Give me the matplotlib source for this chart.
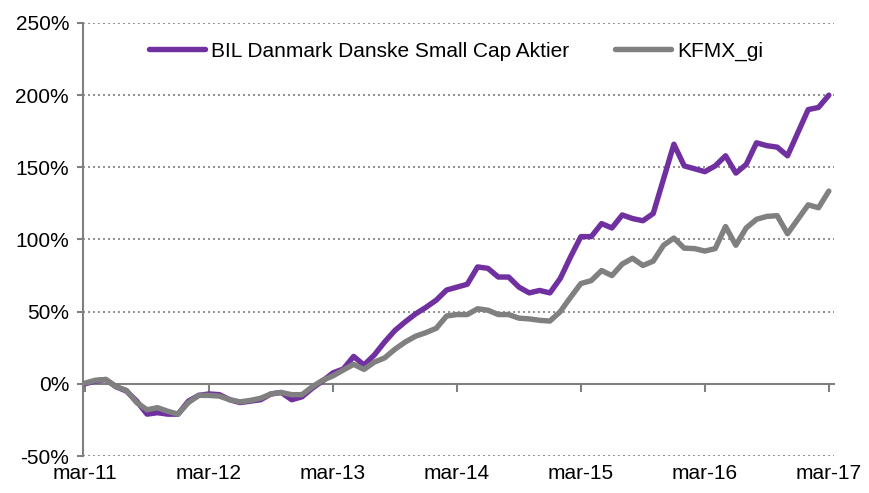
import numpy as np
import matplotlib
matplotlib.use("Agg")
import matplotlib.pyplot as plt
from matplotlib.ticker import FuncFormatter

plt.rcParams['font.family'] = ['Liberation Sans', 'DejaVu Sans']

# monthly returns in %, mar-11 .. mar-17
bil = [0, 2, 3, -2, -5, -12, -21, -20, -21, -21,
       -12, -8, -7, -7.5, -11, -13, -12, -11, -7, -6,
       -11, -9, -3, 2, 7.6, 10.3, 19, 13, 20, 29,
       37, 43, 48.5, 53, 58, 65, 67, 69, 81, 80,
       74, 74, 67, 63, 64.7, 63, 73, 88, 102, 102,
       111, 108, 117, 114.5, 113, 118, 142, 166, 151, 149,
       147, 151, 158, 146, 152, 167, 165, 164, 158, 174,
       190, 191.5, 200]
kfmx = [0.5, 2.5, 3, -2, -4.5, -13, -18, -16.5, -19, -21,
        -13, -8, -8, -8.5, -11, -12.5, -11.5, -10, -7, -6,
        -7.5, -7.5, -2, 2.5, 5.5, 9.6, 13.5, 10, 15, 18,
        24, 29, 33, 35.5, 38.5, 47, 48, 48, 52, 51,
        48, 48, 45.5, 45, 44, 43.5, 50, 60, 69.5, 71.5,
        78.5, 75, 83, 87, 82, 85, 96, 101, 94, 93.7,
        92, 93.7, 109, 96, 108, 114, 116, 116.5, 104, 114,
        124, 122, 133.5]
years = ["mar-11", "mar-12", "mar-13", "mar-14", "mar-15", "mar-16", "mar-17"]
labels = ["BIL Danmark Danske Small Cap Aktier", "KFMX_gi"]

months = np.arange(len(bil))
grey = "#808080"

fig = plt.figure(figsize=(8.69, 4.93), dpi=100)
ax = fig.add_axes([83/869, 1-456/493, (834-83)/869, (456-23)/493])

ax.plot(months, bil, color="#7030A0", lw=3.9, label=labels[0], solid_capstyle="round")
ax.plot(months, kfmx, color=grey, lw=3.9, label=labels[1], solid_capstyle="round")

ax.set_xlim(-0.2, 72.5)
ax.set_ylim(-50, 250)
ax.set_yticks(np.arange(-50, 251, 50))
ax.yaxis.set_major_formatter(FuncFormatter(lambda v, p: "%d%%" % v))
for v in [-50, 50, 100, 150, 200, 250]:
    ax.axhline(v, color=grey, lw=1.2, ls=(0, (1.2, 1.8)), zorder=0)

ax.set_xticks(np.arange(0, 73, 12))
ax.set_xticklabels(years)

for s in ["top", "right"]:
    ax.spines[s].set_visible(False)
ax.spines["left"].set_color(grey)
ax.spines["left"].set_linewidth(1.5)
ax.spines["bottom"].set_position(("data", 0))
ax.spines["bottom"].set_color(grey)
ax.spines["bottom"].set_linewidth(1.5)
ax.spines["bottom"].set_zorder(0)

ax.tick_params(axis="y", colors=grey, length=4, width=1.5, labelsize=15, labelcolor="black", pad=6)
ax.tick_params(axis="x", colors=grey, length=6, width=1.5, labelsize=15, labelcolor="black", pad=52)

ax.legend(loc="upper center", bbox_to_anchor=(0.497, 1.0), ncol=2, frameon=False,
          fontsize=15, handlelength=2.7, handletextpad=0.3, columnspacing=2.2)

fig.savefig("out.png", dpi=100)
